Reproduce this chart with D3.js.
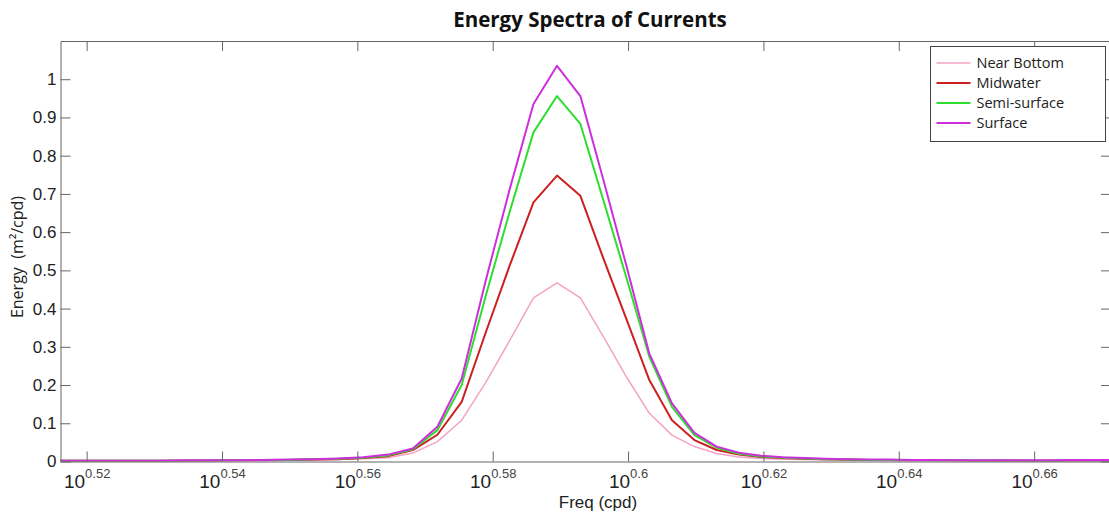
<!DOCTYPE html>
<html>
<head>
<meta charset="utf-8">
<script src="https://cdn.jsdelivr.net/npm/d3@7"></script>
<style>
  body { margin: 0; background: #fff; }
  svg { display: block; }
</style>
</head>
<body>
<svg id="chart" width="1109" height="517"></svg>
<script>
// Frequencies (cpd) of the spectral estimates
const freqs = [
  3.266, 3.297, 3.328, 3.359, 3.390, 3.421, 3.452, 3.483, 3.514, 3.545,
  3.576, 3.607, 3.638, 3.669, 3.700, 3.731, 3.762, 3.793, 3.824, 3.855,
  3.886, 3.917, 3.948, 3.979, 4.010, 4.041, 4.072, 4.103, 4.134, 4.165,
  4.196, 4.227, 4.258, 4.289, 4.320, 4.351, 4.382, 4.413, 4.444, 4.475,
  4.506, 4.537, 4.568, 4.599, 4.630, 4.661, 4.692
];

// Energy (m²/cpd) per depth
const nearBottom = [
  0.001, 0.001, 0.001, 0.001, 0.001, 0.002, 0.002, 0.002, 0.002, 0.003,
  0.004, 0.005, 0.007, 0.010, 0.022, 0.052, 0.108, 0.207, 0.317, 0.428,
  0.467, 0.428, 0.326, 0.221, 0.126, 0.069, 0.039, 0.021, 0.012, 0.008,
  0.006, 0.005, 0.004, 0.003, 0.003, 0.002, 0.002, 0.002, 0.002, 0.002,
  0.001, 0.001, 0.001, 0.001, 0.001, 0.001, 0.001
];
const midwater = [
  0.002, 0.002, 0.002, 0.002, 0.002, 0.002, 0.002, 0.003, 0.003, 0.004,
  0.005, 0.006, 0.009, 0.014, 0.030, 0.070, 0.156, 0.338, 0.513, 0.678,
  0.748, 0.695, 0.530, 0.372, 0.213, 0.108, 0.056, 0.030, 0.018, 0.012,
  0.009, 0.007, 0.006, 0.005, 0.004, 0.004, 0.003, 0.003, 0.003, 0.002,
  0.002, 0.002, 0.002, 0.002, 0.002, 0.002, 0.002
];
const semiSurface = [
  0.002, 0.002, 0.002, 0.002, 0.002, 0.002, 0.003, 0.003, 0.004, 0.004,
  0.006, 0.007, 0.010, 0.016, 0.032, 0.082, 0.200, 0.434, 0.654, 0.861,
  0.956, 0.883, 0.682, 0.480, 0.274, 0.143, 0.069, 0.036, 0.020, 0.013,
  0.010, 0.008, 0.006, 0.005, 0.004, 0.004, 0.004, 0.003, 0.003, 0.003,
  0.003, 0.003, 0.002, 0.002, 0.003, 0.003, 0.003
];
const surface = [
  0.002, 0.002, 0.002, 0.002, 0.002, 0.003, 0.003, 0.003, 0.004, 0.005,
  0.006, 0.008, 0.011, 0.018, 0.034, 0.091, 0.217, 0.474, 0.713, 0.935,
  1.035, 0.956, 0.735, 0.511, 0.282, 0.152, 0.075, 0.039, 0.023, 0.015,
  0.011, 0.009, 0.007, 0.006, 0.005, 0.005, 0.004, 0.004, 0.003, 0.003,
  0.003, 0.003, 0.003, 0.003, 0.004, 0.004, 0.004
];

const seriesNames = ["Near Bottom", "Midwater", "Semi-surface", "Surface"];
const seriesValues = [nearBottom, midwater, semiSurface, surface];

// Axis ticks
const yTicks = [0, 0.1, 0.2, 0.3, 0.4, 0.5, 0.6, 0.7, 0.8, 0.9, 1];
const xTickExponents = ["0.52", "0.54", "0.56", "0.58", "0.6", "0.62", "0.64", "0.66"];

const colors = ["#f3a3c6", "#cc2020", "#2edd2e", "#cc2fdb"];
const widths = [1.5, 2, 2, 2];

(function() {
  const svg = d3.select("#chart");
  const margin = { top: 41, right: -2, bottom: 55.5, left: 60.5 };
  const svgWidth = 1109;
  const svgHeight = 517;
  const width = svgWidth - margin.left - margin.right;
  const height = svgHeight - margin.top - margin.bottom;
  const axisColor = "#666";

  const x = d3
    .scaleLog()
    .domain([3.282, 4.692])
    .range([0, width]);
  const y = d3
    .scaleLinear()
    .domain([0, 1.1])
    .range([height, 0]);

  svg
    .append("rect")
    .attr("width", svgWidth)
    .attr("height", svgHeight)
    .attr("fill", "#fff");

  const g = svg
    .append("g")
    .attr("transform", `translate(${margin.left},${margin.top})`);

  g.append("clipPath")
    .attr("id", "plot-clip")
    .append("rect")
    .attr("width", width)
    .attr("height", height);

  // Lines
  const line = d3
    .line()
    .x(d => x(d.f))
    .y(d => y(d.v));

  const lineData = seriesNames.map((name, i) => ({
    name,
    color: colors[i],
    width: widths[i],
    values: freqs.map((f, j) => ({ f, v: seriesValues[i][j] }))
  }));

  g.append("g")
    .attr("class", "lines")
    .attr("clip-path", "url(#plot-clip)")
    .selectAll("path")
    .data(lineData)
    .join("path")
    .attr("fill", "none")
    .attr("stroke", d => d.color)
    .attr("stroke-width", d => d.width)
    .attr("stroke-linejoin", "round")
    .attr("d", d => line(d.values));

  // Axes
  const xTickValues = xTickExponents.map(e => Math.pow(10, +e));

  const styleAxis = sel => {
    sel.select(".domain").attr("stroke", axisColor);
    sel.selectAll(".tick line").attr("stroke", axisColor);
  };

  g.append("g")
    .attr("transform", `translate(0,${height})`)
    .call(
      d3
        .axisBottom(x)
        .tickValues(xTickValues)
        .tickSizeInner(-10)
        .tickSizeOuter(0)
        .tickFormat("")
    )
    .call(styleAxis)
    .call(ax =>
      ax
        .selectAll(".tick text")
        .attr("y", 26)
        .attr("dy", null)
        .attr("text-anchor", "middle")
        .attr("fill", "#222")
        .style("font-family", "Liberation Sans, Arial, sans-serif")
        .each(function(d, i) {
          const t = d3.select(this);
          t.append("tspan")
            .attr("font-size", 19)
            .text("10");
          t.append("tspan")
            .attr("font-size", 13)
            .attr("dy", -10)
            .attr("fill", "#444")
            .text(xTickExponents[i]);
        })
    );

  g.append("g")
    .call(
      d3
        .axisTop(x)
        .tickValues(xTickValues)
        .tickSizeInner(-10)
        .tickSizeOuter(0)
        .tickFormat("")
    )
    .call(styleAxis);

  g.append("g")
    .call(
      d3
        .axisLeft(y)
        .tickValues(yTicks)
        .tickSizeInner(-10)
        .tickSizeOuter(0)
        .tickPadding(4)
        .tickFormat(d3.format("~g"))
    )
    .call(styleAxis)
    .call(ax =>
      ax
        .selectAll(".tick text")
        .attr("fill", "#222")
        .style("font-family", "Liberation Sans, Arial, sans-serif")
        .style("font-size", "17px")
    );

  g.append("g")
    .attr("transform", `translate(${width},0)`)
    .call(
      d3
        .axisRight(y)
        .tickValues(yTicks)
        .tickSizeInner(-10)
        .tickSizeOuter(0)
        .tickFormat("")
    )
    .call(styleAxis);

  // Titles
  svg
    .append("text")
    .attr("x", 590)
    .attr("y", 27)
    .attr("text-anchor", "middle")
    .style("font-family", "Open Sans, sans-serif")
    .style("font-weight", "bold")
    .style("font-size", "20.5px")
    .attr("fill", "#111")
    .text("Energy Spectra of Currents");

  svg
    .append("text")
    .attr("x", 598)
    .attr("y", 508)
    .attr("text-anchor", "middle")
    .style("font-family", "Liberation Sans, Arial, sans-serif")
    .style("font-size", "17px")
    .attr("fill", "#222")
    .text("Freq (cpd)");

  svg
    .append("text")
    .attr("transform", "translate(23,257) rotate(-90)")
    .attr("text-anchor", "middle")
    .style("font-family", "Open Sans, sans-serif")
    .style("font-size", "16px")
    .style("white-space", "pre")
    .attr("fill", "#222")
    .text("Energy  (m²/cpd)");

  // Legend
  const legend = svg.append("g").attr("transform", "translate(930.5,46.5)");
  legend
    .append("rect")
    .attr("width", 175)
    .attr("height", 95)
    .attr("fill", "#fff")
    .attr("stroke", "#444");

  const item = legend
    .selectAll(".item")
    .data(lineData)
    .join("g")
    .attr("class", "item")
    .attr("transform", (d, i) => `translate(0,${16.5 + i * 20})`);
  item
    .append("line")
    .attr("x1", 6)
    .attr("x2", 40)
    .attr("stroke", d => d.color)
    .attr("stroke-width", d => d.width);
  item
    .append("text")
    .attr("x", 46)
    .attr("dy", "0.35em")
    .style("font-family", "Open Sans, sans-serif")
    .style("font-size", "14.5px")
    .attr("fill", "#222")
    .text(d => d.name);
})();
</script>
</body>
</html>
